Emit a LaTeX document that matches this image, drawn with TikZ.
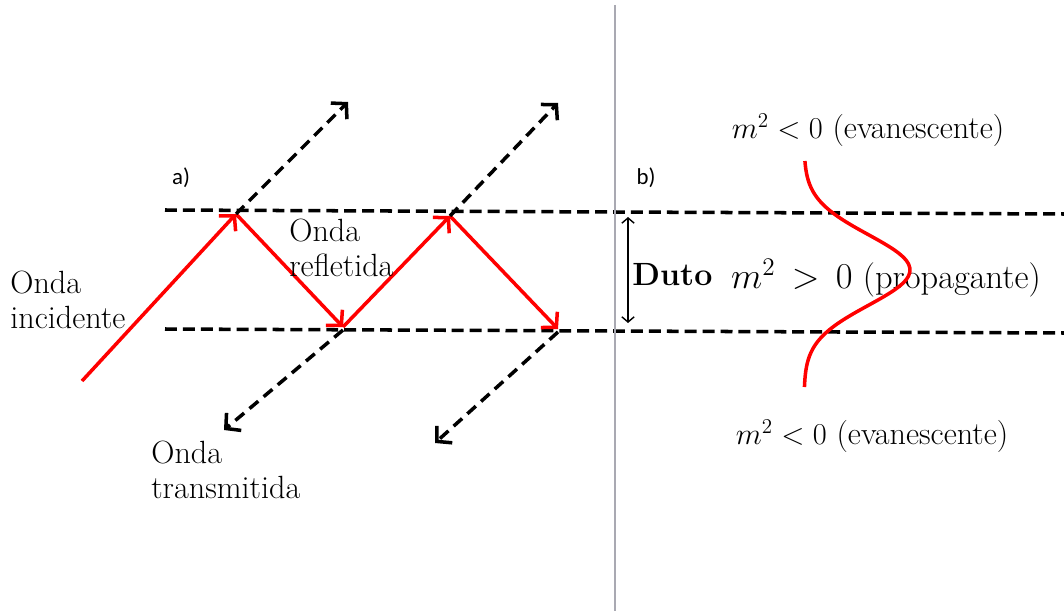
\documentclass[tikz,border=0pt]{standalone}
\usepackage{fontspec}
\newfontfamily\rotulo{Carlito}
\usetikzlibrary{positioning, arrows.meta, calc}
\definecolor{raiored}{HTML}{FF0000}
\definecolor{divisor}{HTML}{A9A9B2}

\begin{document}
\begin{tikzpicture}[x=0.02cm, y=-0.02cm, font=\fontsize{18.3}{20}\selectfont,
    raio/.style={draw=raiored, line width=2pt,
                 -{Straight Barb[length=6pt, width=13pt, line width=2pt]}},
    fuga/.style={draw=black, line width=2pt, dash pattern=on 6.5pt off 4pt,
                 -{Straight Barb[length=6pt, width=13pt, line width=2pt]}},
    parede/.style={draw=black, line width=2pt, dash pattern=on 6.8pt off 3.4pt}]
        \useasboundingbox (0,0) rectangle (1064,611);
        % pontos de reflexao
        \coordinate (p0) at (82,381);
        \coordinate (p1) at (236,214);
        \coordinate (p2) at (343,327);
        \coordinate (p3) at (450,216);
        \coordinate (p4) at (558,329);
        % paredes do duto
        \coordinate (t0) at (165,210); \coordinate (t1) at (1064,214);
        \coordinate (b0) at (165,329); \coordinate (b1) at (1064,333);
        \draw[parede] (t0) -- (t1);
        \draw[parede] (b0) -- (b1);
        % divisao a) / b)
        \coordinate (d0) at (615,5); \coordinate (d1) at (615,611);
        \draw[divisor, line width=1pt] (d0) -- (d1);
        % raio guiado
        \draw[raio] (p0) -- (p1);
        \draw[raio] (p1) -- (p2);
        \draw[raio] (p2) -- (p3);
        \draw[raio] (p3) -- (p4);
        % ondas transmitidas
        \coordinate (s1) at (348,102);
        \coordinate (s3) at (558,103);
        \coordinate (s2) at (224,430);
        \coordinate (s4) at (435,443);
        \draw[fuga] (p1) -- (s1);
        \draw[fuga] (p3) -- (s3);
        \draw[fuga] ($(p2)+(0,3)$) -- (s2);
        \draw[fuga] ($(p4)+(0,3)$) -- (s4);
        % rotulos
        \node[font=\rotulo\fontsize{13}{15}\selectfont] (la) at (181,178) {a)};
        \node[font=\rotulo\fontsize{13}{15}\selectfont] (lb) at (646,178) {b)};
        \node[anchor=west, align=left, inner sep=0pt] (inc) at (10,300)
              {Onda\\incidente};
        \node[anchor=west, align=left, inner sep=0pt] (ref) at (289,248)
              {Onda\\refletida};
        \node[anchor=west, align=left, inner sep=0pt] (tra) at (151,470)
              {Onda\\transmitida};
        % lado b)
        \coordinate (u0) at (628,217); \coordinate (u1) at (628,323);
        \draw[{Straight Barb[length=3pt, width=7pt]}-{Straight Barb[length=3pt, width=7pt]},
              line width=0.8pt] (u0) -- (u1);
        \node[anchor=west, inner sep=0pt] (duto) at (632,275) {\textbf{Duto}};
        \node (ev1) at (868,130) {$m^2<0$ (evanescente)};
        \node[font=\fontsize{19.6}{22}\selectfont] (pro) at (886,278)
              {$m^2\,>\,0$ (propagante)};
        \node (ev2) at (872,436) {$m^2<0$ (evanescente)};
        % modo confinado
        \draw[raiored, line width=2pt] plot[variable=\t, domain=161:387, samples=60, smooth]
              ({804+106*exp(-((\t-270)/50)*((\t-270)/50))}, \t);
      \end{tikzpicture}
\end{document}
